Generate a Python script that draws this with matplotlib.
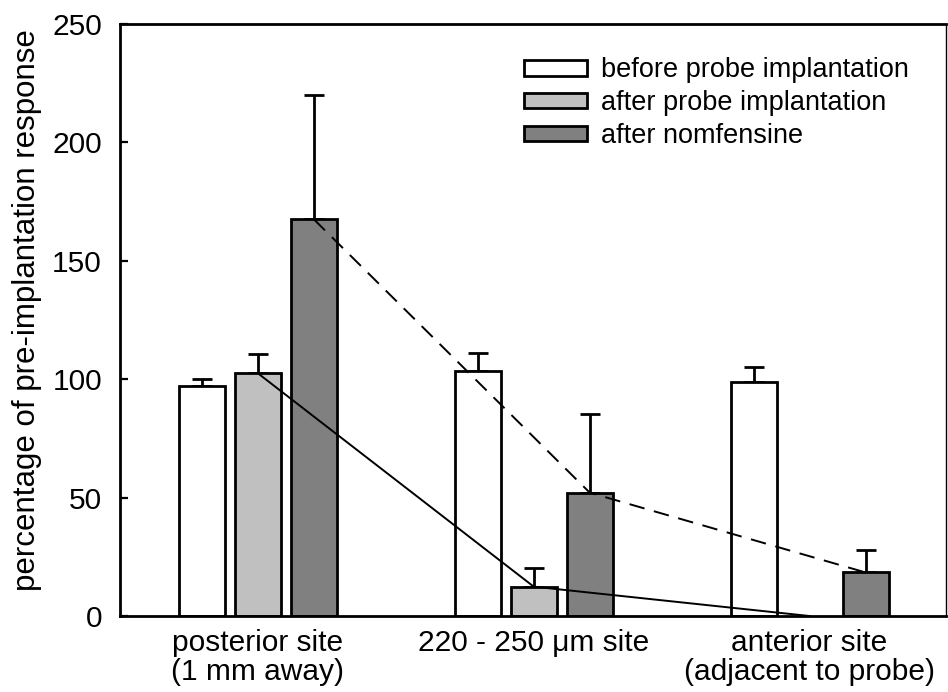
import numpy as np
import matplotlib as mpl
import matplotlib.pyplot as plt

mpl.rcParams['font.family'] = ['Liberation Sans', 'DejaVu Sans']

# data
sites = ['posterior site\n(1 mm away)', '220 - 250 \u03bcm site',
         'anterior site\n(adjacent to probe)']
series = ['before probe implantation', 'after probe implantation',
          'after nomfensine']
before = np.array([97.0, 103.5, 99.0])
before_err = np.array([3.0, 7.5, 6.3])
after_probe = np.array([102.5, 12.4, 0.0])
after_probe_err = np.array([8.0, 8.0, 0.0])
nomf = np.array([167.5, 52.1, 18.4])
nomf_err = np.array([52.7, 33.2, 9.3])

colors = ['white', '#c0c0c0', '#808080']

ind = np.arange(len(sites))
width = 0.167
step = 0.203

fig = plt.figure(figsize=(9.48, 6.92), dpi=100)
ax = fig.add_axes([0.1266, 0.1098, 0.8714, 0.8555])

vals = [before, after_probe, nomf]
errs = [before_err, after_probe_err, nomf_err]
rects = []
for k in range(3):
    x = ind + (k - 1) * step
    v = vals[k]
    e = errs[k]
    keep = v > 0
    r = ax.bar(x[keep], v[keep], width, color=colors[k], edgecolor='black',
               linewidth=2.0, zorder=2)
    ax.errorbar(x[keep], v[keep], yerr=[np.zeros(keep.sum()), e[keep]],
                fmt='none', ecolor='black', elinewidth=2.0, capsize=7,
                capthick=2.0, zorder=1)
    rects.append(r)

# connecting lines
ax.plot(ind, after_probe, color='black', linewidth=1.4, zorder=3)
ax.plot(ind + step, nomf, color='black', linewidth=1.4, zorder=3,
        dashes=(8, 5))

ax.set_xlim(-0.5, 2.495)
ax.set_ylim(0, 250)
ax.set_yticks(np.arange(0, 251, 50))
ax.set_xticks(ind)
ax.set_xticklabels(sites, fontsize=21.5, linespacing=1.05)
ax.tick_params(axis='x', length=0, pad=9)
ax.tick_params(axis='y', direction='in', length=6, width=1.6, labelsize=21.5,
               pad=13)
ax.set_ylabel('percentage of pre-implantation response', fontsize=22.5)
ax.yaxis.set_label_coords(-0.095, 0.517)

for s in ['left', 'bottom', 'top']:
    ax.spines[s].set_linewidth(2.0)
ax.spines['right'].set_linewidth(1.0)

ax.legend(rects, series, loc='upper left', bbox_to_anchor=(0.553, 0.917),
          bbox_transform=fig.transFigure, frameon=False, fontsize=19.5,
          handlelength=2.3, handleheight=0.5, handletextpad=0.55,
          labelspacing=0.25, borderpad=0, borderaxespad=0)

fig.savefig('out.png', dpi=100)
